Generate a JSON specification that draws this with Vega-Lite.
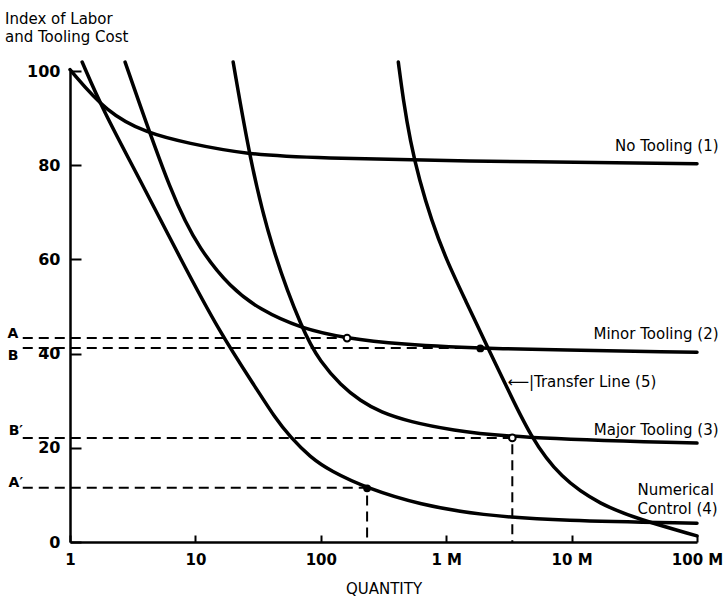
{
  "$schema": "https://vega.github.io/schema/vega-lite/v6.json",
  "width": 627,
  "height": 471,
  "autosize": {"type": "none"},
  "padding": {"left": 70, "top": 71, "right": 28, "bottom": 56},
  "background": "white",
  "config": {"view": {"stroke": null}, "font": "DejaVu Sans", "axis": {"grid": false}},
  "title": {
    "text": ["Index of Labor", "and Tooling Cost"],
    "anchor": "start",
    "frame": "group",
    "dx": -65,
    "offset": 10,
    "fontSize": 15,
    "fontWeight": "normal",
    "lineHeight": 18,
    "color": "black"
  },
  "datasets": {
    "curves": [
      {"s": "1", "q": 1, "v": 100.3}, {"s": "1", "q": 1.97, "v": 91.1}, {"s": "1", "q": 4.12, "v": 86.8}, {"s": "1", "q": 8.59, "v": 84.7}, {"s": "1", "q": 26.3, "v": 82.2}, {"s": "1", "q": 100, "v": 81.5}, {"s": "1", "q": 1075, "v": 80.9}, {"s": "1", "q": 100000, "v": 80.3},
      {"s": "2", "q": 2.75, "v": 101.9}, {"s": "2", "q": 6.64, "v": 72.6}, {"s": "2", "q": 10.9, "v": 62.0}, {"s": "2", "q": 18.9, "v": 54.1}, {"s": "2", "q": 32.8, "v": 49.3}, {"s": "2", "q": 68.5, "v": 45.4}, {"s": "2", "q": 162, "v": 43.2}, {"s": "2", "q": 430, "v": 42.0}, {"s": "2", "q": 1872, "v": 41.0}, {"s": "2", "q": 100000, "v": 40.3},
      {"s": "3", "q": 20, "v": 101.9}, {"s": "3", "q": 27.3, "v": 81.1}, {"s": "3", "q": 39.5, "v": 63.1}, {"s": "3", "q": 72.4, "v": 44.4}, {"s": "3", "q": 99.5, "v": 38.2}, {"s": "3", "q": 144, "v": 33.3}, {"s": "3", "q": 208, "v": 29.9}, {"s": "3", "q": 298, "v": 27.6}, {"s": "3", "q": 517, "v": 25.5}, {"s": "3", "q": 1080, "v": 23.8}, {"s": "3", "q": 3367, "v": 22.1}, {"s": "3", "q": 100000, "v": 21.0},
      {"s": "4", "q": 1.25, "v": 101.9}, {"s": "4", "q": 1.83, "v": 91.7}, {"s": "4", "q": 3.62, "v": 76.9}, {"s": "4", "q": 7.55, "v": 60.3}, {"s": "4", "q": 15.7, "v": 44.4}, {"s": "4", "q": 31.1, "v": 32.3}, {"s": "4", "q": 43.3, "v": 26.3}, {"s": "4", "q": 57, "v": 22.3}, {"s": "4", "q": 82.3, "v": 18.0}, {"s": "4", "q": 119, "v": 15.1}, {"s": "4", "q": 234, "v": 11.4}, {"s": "4", "q": 621, "v": 7.9}, {"s": "4", "q": 1872, "v": 5.7}, {"s": "4", "q": 8130, "v": 4.5}, {"s": "4", "q": 100000, "v": 4.0},
      {"s": "5", "q": 415, "v": 101.9}, {"s": "5", "q": 455, "v": 93.8}, {"s": "5", "q": 517, "v": 85.1}, {"s": "5", "q": 610, "v": 76.9}, {"s": "5", "q": 761, "v": 68.4}, {"s": "5", "q": 1002, "v": 59.9}, {"s": "5", "q": 1420, "v": 51.4}, {"s": "5", "q": 2168, "v": 41.0}, {"s": "5", "q": 2910, "v": 34.0}, {"s": "5", "q": 4690, "v": 22.3}, {"s": "5", "q": 8140, "v": 13.6}, {"s": "5", "q": 16980, "v": 7.9}, {"s": "5", "q": 35400, "v": 4.7}, {"s": "5", "q": 100000, "v": 1.3}
    ],
    "dashes": [
      {"seg": "A", "o": 1, "q": 0.42, "v": 43.3}, {"seg": "A", "o": 2, "q": 162, "v": 43.3},
      {"seg": "B", "o": 1, "q": 0.42, "v": 41.2}, {"seg": "B", "o": 2, "q": 1872, "v": 41.2},
      {"seg": "Bp", "o": 1, "q": 0.42, "v": 22.1}, {"seg": "Bp", "o": 2, "q": 3367, "v": 22.1}, {"seg": "Bp", "o": 3, "q": 3367, "v": 0},
      {"seg": "Ap", "o": 1, "q": 0.42, "v": 11.5}, {"seg": "Ap", "o": 2, "q": 234, "v": 11.5}, {"seg": "Ap", "o": 3, "q": 234, "v": 0}
    ],
    "openPts": [{"q": 162, "v": 43.3}, {"q": 3367, "v": 22.1}],
    "filledPts": [{"q": 1872, "v": 41.1}, {"q": 234, "v": 11.4}],
    "rightLabels": [
      {"t": "No Tooling (1)", "q": 148600, "v": 83.0},
      {"t": "Minor Tooling (2)", "q": 148600, "v": 43.1},
      {"t": "Major Tooling (3)", "q": 148600, "v": 22.7}
    ],
    "leftLabels": [
      {"t": "⟵|Transfer Line (5)", "q": 3075, "v": 32.9},
      {"t": "Numerical", "q": 33500, "v": 10.0},
      {"t": "Control (4)", "q": 33500, "v": 6.0}
    ],
    "letters": [
      {"t": "A", "q": 0.351, "v": 43.3},
      {"t": "B", "q": 0.351, "v": 38.6},
      {"t": "B′", "q": 0.37, "v": 22.7},
      {"t": "A′", "q": 0.37, "v": 11.7}
    ]
  },
  "encoding": {
    "x": {
      "field": "q", "type": "quantitative",
      "scale": {"type": "log", "domain": [1, 100000], "nice": false},
      "axis": {
        "title": "QUANTITY", "titleFontSize": 15, "titleFontWeight": "normal", "titleColor": "black", "titlePadding": 14,
        "values": [1, 10, 100, 1000, 10000, 100000],
        "labelExpr": "datum.value == 1000 ? '1 M' : datum.value == 10000 ? '10 M' : datum.value == 100000 ? '100 M' : datum.label",
        "labelFontSize": 15, "labelFontWeight": "bold", "labelColor": "black",
        "labelFlush": false, "labelOverlap": false, "labelPadding": 17,
        "domainColor": "black", "domainWidth": 2.5, "tickColor": "black", "tickWidth": 2, "tickSize": -7
      }
    },
    "y": {
      "field": "v", "type": "quantitative",
      "scale": {"domain": [0, 100], "nice": false, "zero": false},
      "axis": {
        "title": null,
        "values": [0, 20, 40, 60, 80, 100],
        "labelFontSize": 16, "labelFontWeight": "bold", "labelColor": "black", "labelPadding": 21,
        "domainColor": "black", "domainWidth": 2.5, "tickColor": "black", "tickWidth": 2, "tickSize": -11
      }
    }
  },
  "layer": [
    {
      "data": {"name": "dashes"},
      "mark": {"type": "line", "stroke": "black", "strokeWidth": 2, "strokeDash": [10, 6]},
      "encoding": {"detail": {"field": "seg"}, "order": {"field": "o"}}
    },
    {
      "data": {"name": "curves"},
      "mark": {"type": "line", "interpolate": "basis", "stroke": "black", "strokeWidth": 3.5, "strokeCap": "round"},
      "encoding": {"detail": {"field": "s"}}
    },
    {
      "data": {"name": "openPts"},
      "mark": {"type": "point", "filled": true, "fill": "white", "stroke": "black", "strokeWidth": 2, "size": 45, "opacity": 1}
    },
    {
      "data": {"name": "filledPts"},
      "mark": {"type": "point", "filled": true, "fill": "black", "size": 60, "opacity": 1}
    },
    {
      "data": {"name": "rightLabels"},
      "mark": {"type": "text", "align": "right", "baseline": "alphabetic", "fontSize": 15, "color": "black"},
      "encoding": {"text": {"field": "t"}}
    },
    {
      "data": {"name": "leftLabels"},
      "mark": {"type": "text", "align": "left", "baseline": "alphabetic", "fontSize": 15, "color": "black"},
      "encoding": {"text": {"field": "t"}}
    },
    {
      "data": {"name": "letters"},
      "mark": {"type": "text", "align": "center", "baseline": "alphabetic", "fontSize": 14, "fontWeight": "bold", "color": "black"},
      "encoding": {"text": {"field": "t"}}
    }
  ]
}
